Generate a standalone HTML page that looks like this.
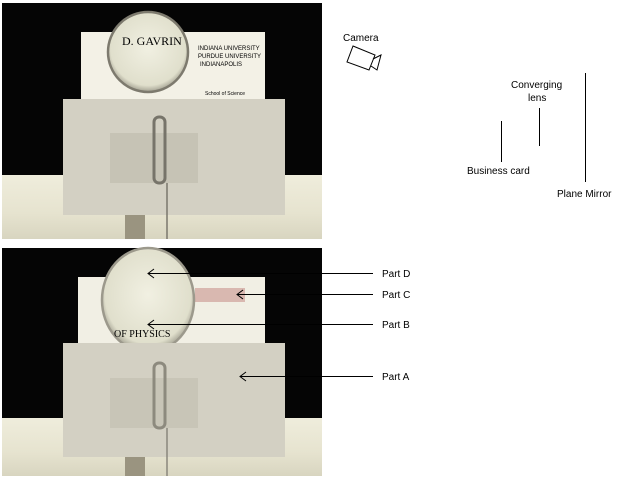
<!DOCTYPE html>
<html><head><style>
html,body{margin:0;padding:0;background:#fff;width:640px;height:493px;overflow:hidden}
svg{display:block}
text{font-family:"Liberation Sans",sans-serif;font-size:10px;fill:#000}
</style></head><body>
<svg width="640" height="493" viewBox="0 0 640 493">
<defs>
<radialGradient id="lens" cx="50%" cy="45%" r="55%">
<stop offset="0" stop-color="#f1f0e2"/><stop offset="0.85" stop-color="#e0dfcc"/><stop offset="1" stop-color="#a19f90"/>
</radialGradient>
<linearGradient id="foam" x1="0" y1="0" x2="0" y2="1">
<stop offset="0" stop-color="#efeddc"/><stop offset="0.6" stop-color="#e6e3cf"/><stop offset="1" stop-color="#d8d5c0"/>
</linearGradient>
</defs>
<!-- top photo -->
<rect x="2" y="3" width="320" height="236" fill="#050505"/>
<rect x="2" y="175" width="320" height="64" fill="url(#foam)"/>
<rect x="125" y="210" width="20" height="29" fill="#9a9480"/>
<rect x="81" y="32" width="184" height="68" fill="#f3f1e6"/>
<circle cx="148" cy="52" r="40" fill="url(#lens)" stroke="#7d7a6e" stroke-width="2.5"/>
<text x="122" y="45" style="font-family:'Liberation Serif',serif;font-size:12px" fill="#333">D. GAVRIN</text>
<text x="198" y="50" style="font-size:6px" fill="#844">INDIANA UNIVERSITY</text>
<text x="198" y="58" style="font-size:6px" fill="#844">PURDUE UNIVERSITY</text>
<text x="200" y="66" style="font-size:6px" fill="#844">INDIANAPOLIS</text>
<text x="205" y="95" style="font-size:5px" fill="#333">School of Science</text>
<rect x="63" y="99" width="222" height="116" fill="#d3d0c3"/>
<rect x="110" y="133" width="88" height="50" fill="#c6c3b5"/>
<rect x="154" y="117" width="11" height="66" rx="5" fill="none" stroke="#77746a" stroke-width="3"/>
<line x1="167" y1="183" x2="167" y2="239" stroke="#7a776c" stroke-width="1.5"/>
<!-- bottom photo -->
<rect x="2" y="248" width="320" height="228" fill="#050505"/>
<rect x="2" y="418" width="320" height="58" fill="url(#foam)"/>
<rect x="125" y="455" width="20" height="21" fill="#9a9480"/>
<rect x="78" y="277" width="187" height="67" fill="#f1efe4"/>
<rect x="195" y="288" width="50" height="14" fill="#d9b8b0"/>
<ellipse cx="148" cy="300" rx="46" ry="52" fill="url(#lens)" stroke="#9c998c" stroke-width="2.5"/>
<text x="114" y="337" style="font-family:'Liberation Serif',serif;font-size:10px" fill="#444">OF PHYSICS</text>
<rect x="63" y="343" width="222" height="114" fill="#d3d0c3"/>
<rect x="110" y="378" width="88" height="50" fill="#c8c5b7"/>
<rect x="154" y="363" width="11" height="65" rx="5" fill="none" stroke="#8d8a7e" stroke-width="3"/>
<line x1="167" y1="428" x2="167" y2="476" stroke="#8a877c" stroke-width="1.5"/>
<!-- arrows -->
<g stroke="#000" stroke-width="1" fill="none">
<line x1="148" y1="273.5" x2="373" y2="273.5"/><path d="M154,269 L148,273.5 L154,278"/>
<line x1="237" y1="294.5" x2="373" y2="294.5"/><path d="M243,290 L237,294.5 L243,299"/>
<line x1="148" y1="324.5" x2="373" y2="324.5"/><path d="M154,320 L148,324.5 L154,329"/>
<line x1="240" y1="376.5" x2="373" y2="376.5"/><path d="M246,372 L240,376.5 L246,381"/>
</g>
<text x="382" y="277">Part D</text>
<text x="382" y="298">Part C</text>
<text x="382" y="328">Part B</text>
<text x="382" y="380">Part A</text>
<!-- schematic -->
<text x="343" y="41">Camera</text>
<g stroke="#000" stroke-width="1" fill="none">
<path d="M353,46 L375,55 L369,70 L347,62 Z"/>
<path d="M373,59 L381,55 L377,70 L371,66"/>
<line x1="539.5" y1="108" x2="539.5" y2="146"/>
<line x1="501.5" y1="121" x2="501.5" y2="162"/>
<line x1="585.5" y1="73" x2="585.5" y2="182"/>
</g>
<text x="511" y="88">Converging</text>
<text x="528" y="101">lens</text>
<text x="467" y="174">Business card</text>
<text x="557" y="197">Plane Mirror</text>
</svg>
</body></html>
